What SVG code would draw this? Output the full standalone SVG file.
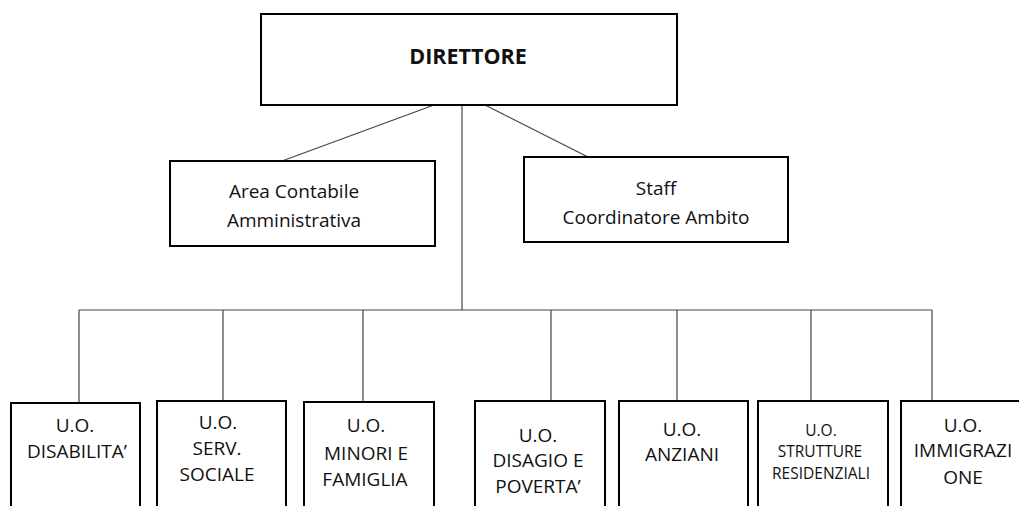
<svg xmlns="http://www.w3.org/2000/svg" width="1019" height="506" viewBox="0 0 1019 506">
<style>
.box{fill:#fff;stroke:#000;stroke-width:2}
.conn line{stroke:#444;stroke-width:1.2}
text{font-family:"Open Sans","Noto Sans","Liberation Sans",sans-serif;fill:#111;text-anchor:middle}
.t{font-size:19px}
.s{font-size:15.5px}
.b{font-size:21.5px;font-weight:bold}
</style>
<rect width="1019" height="506" fill="#fff"/>
<g id="connectors" class="conn">
<line x1="434" y1="105" x2="282" y2="161"/>
<line x1="485" y1="105" x2="588" y2="157"/>
<line x1="462" y1="105" x2="462" y2="310"/>
<line x1="79" y1="310" x2="932" y2="310"/>
<line x1="79" y1="310" x2="79" y2="403"/>
<line x1="223" y1="310" x2="223" y2="401"/>
<line x1="363" y1="310" x2="363" y2="402"/>
<line x1="551" y1="310" x2="551" y2="401"/>
<line x1="677" y1="310" x2="677" y2="401"/>
<line x1="811" y1="310" x2="811" y2="401"/>
<line x1="932" y1="310" x2="932" y2="401"/>
</g>
<g id="direttore">
<rect class="box" x="261" y="14" width="416" height="91"/>
<text class="b" x="468" y="64">DIRETTORE</text>
</g>
<g id="area-contabile">
<rect class="box" x="170" y="161" width="265" height="85"/>
<text class="t" x="294" y="198">Area Contabile</text>
<text class="t" x="294" y="227">Amministrativa</text>
</g>
<g id="staff">
<rect class="box" x="524" y="157" width="264" height="85"/>
<text class="t" x="656" y="195">Staff</text>
<text class="t" x="656" y="224">Coordinatore Ambito</text>
</g>
<g id="uo-disabilita">
<rect class="box" x="11" y="403" width="129" height="120"/>
<text class="t" x="75" y="432">U.O.</text>
<text class="t" x="77" y="458">DISABILITA’</text>
</g>
<g id="uo-serv-sociale">
<rect class="box" x="157" y="401" width="129" height="120"/>
<text class="t" x="218" y="429">U.O.</text>
<text class="t" x="217" y="455">SERV.</text>
<text class="t" x="217" y="481">SOCIALE</text>
</g>
<g id="uo-minori">
<rect class="box" x="304" y="402" width="130" height="120"/>
<text class="t" x="366" y="432">U.O.</text>
<text class="t" x="366" y="460">MINORI E</text>
<text class="t" x="365" y="486">FAMIGLIA</text>
</g>
<g id="uo-disagio">
<rect class="box" x="475" y="401" width="130" height="120"/>
<text class="t" x="538" y="442">U.O.</text>
<text class="t" x="538" y="467">DISAGIO E</text>
<text class="t" x="538" y="493">POVERTA’</text>
</g>
<g id="uo-anziani">
<rect class="box" x="619" y="401" width="129" height="120"/>
<text class="t" x="682" y="436">U.O.</text>
<text class="t" x="682" y="461">ANZIANI</text>
</g>
<g id="uo-strutture">
<rect class="box" x="758" y="401" width="130" height="120"/>
<text class="s" x="821" y="436">U.O.</text>
<text class="s" x="820" y="457">STRUTTURE</text>
<text class="s" x="821" y="479">RESIDENZIALI</text>
</g>
<g id="uo-immigrazione">
<rect class="box" x="901" y="401" width="124" height="120"/>
<text class="t" x="963" y="432">U.O.</text>
<text class="t" x="963" y="457">IMMIGRAZI</text>
<text class="t" x="963" y="484">ONE</text>
</g>
</svg>
